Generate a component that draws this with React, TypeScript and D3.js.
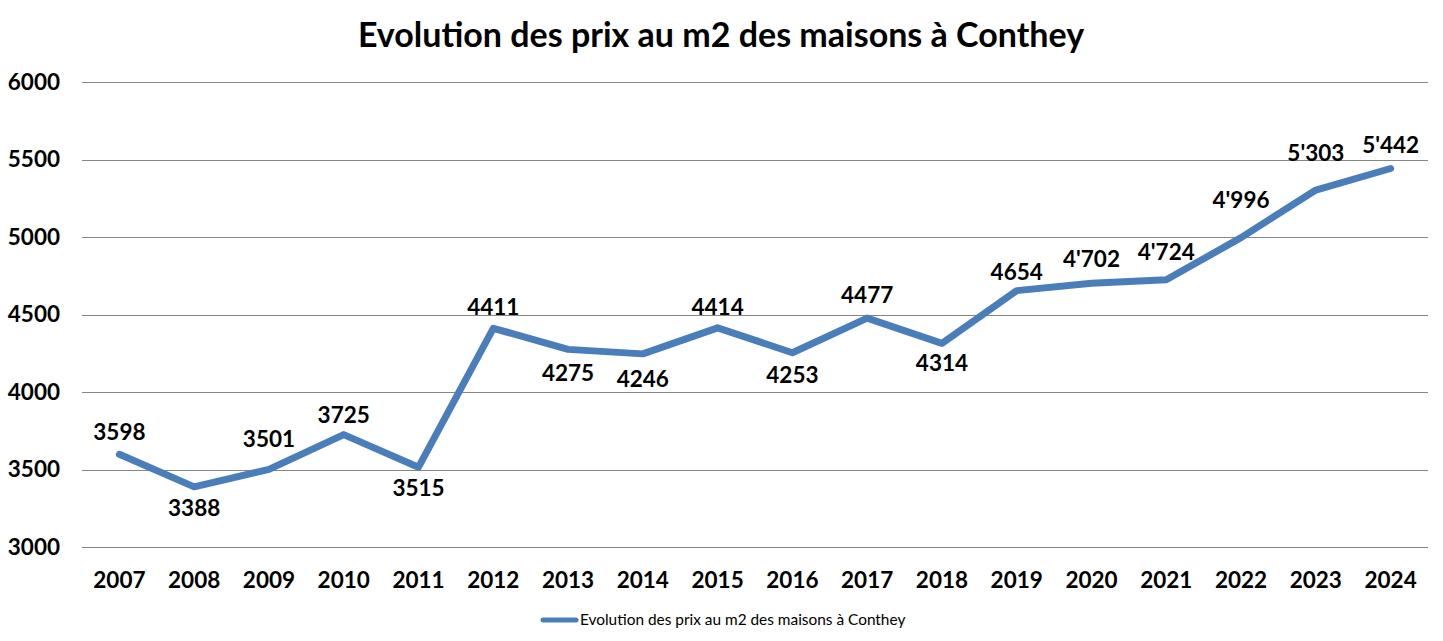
import { useEffect, useRef } from 'react';
import * as d3 from 'd3';

const years = ['2007', '2008', '2009', '2010', '2011', '2012', '2013', '2014', '2015', '2016', '2017', '2018', '2019', '2020', '2021', '2022', '2023', '2024'];
const prices = [3598, 3388, 3501, 3725, 3515, 4411, 4275, 4246, 4414, 4253, 4477, 4314, 4654, 4702, 4724, 4996, 5303, 5442];
const valueLabels = ['3598', '3388', '3501', '3725', '3515', '4411', '4275', '4246', '4414', '4253', '4477', '4314', '4654', "4'702", "4'724", "4'996", "5'303", "5'442"];
const yTicks = [3000, 3500, 4000, 4500, 5000, 5500, 6000];

const title = 'Evolution des prix au m2 des maisons à Conthey';

// label placement (px from the point, negative = above), as in the original
const labelDy = [-22, 21, -30, -20, 21, -21, 24, 25, -21, 22, -23, 20, -19, -24, -28, -37, -37, -23];

const W = 1443;
const H = 641;
const FONT = 'Lato, "Open Sans", sans-serif';
const BLUE = '#4a7ebb';

export default function App() {
  const svgRef = useRef<SVGSVGElement>(null);

  useEffect(() => {
    document.body.style.margin = '0';
    if (!svgRef.current) return;
    const svg = d3.select(svgRef.current);
    svg.selectAll('*').remove();

    const x = d3.scalePoint<string>().domain(years).range([82, 1428]).padding(0.5);
    const y = d3.scaleLinear().domain([3000, 6000]).range([547, 82]);

    svg.append('rect').attr('width', W).attr('height', H).attr('fill', '#fff');

    // title
    svg.append('text')
      .attr('x', 721)
      .attr('y', 47)
      .attr('text-anchor', 'middle')
      .attr('font-family', FONT)
      .attr('font-weight', 700)
      .attr('font-size', 34)
      .attr('fill', '#000')
      .text(title);

    // gridlines
    svg.append('g')
      .selectAll('line')
      .data(yTicks)
      .join('line')
      .attr('x1', 82)
      .attr('x2', 1428)
      .attr('y1', d => Math.round(y(d)) + 0.5)
      .attr('y2', d => Math.round(y(d)) + 0.5)
      .attr('stroke', '#868686')
      .attr('stroke-width', 1);

    // y tick labels
    svg.append('g')
      .selectAll('text')
      .data(yTicks)
      .join('text')
      .attr('x', 60)
      .attr('y', d => y(d))
      .attr('dy', '0.35em')
      .attr('text-anchor', 'end')
      .attr('font-family', FONT)
      .attr('font-weight', 700)
      .attr('font-size', 22.5)
      .attr('fill', '#000')
      .text(d => String(d));

    // x tick labels
    svg.append('g')
      .selectAll('text')
      .data(years)
      .join('text')
      .attr('x', d => x(d)!)
      .attr('y', 580)
      .attr('dy', '0.35em')
      .attr('text-anchor', 'middle')
      .attr('font-family', FONT)
      .attr('font-weight', 700)
      .attr('font-size', 22.5)
      .attr('fill', '#000')
      .text(d => d);

    // the line
    const line = d3.line<number>()
      .x((_, i) => x(years[i])!)
      .y(d => y(d));

    svg.append('path')
      .datum(prices)
      .attr('d', line)
      .attr('fill', 'none')
      .attr('stroke', BLUE)
      .attr('stroke-width', 7)
      .attr('stroke-linejoin', 'round')
      .attr('stroke-linecap', 'round');

    // value labels
    svg.append('g')
      .selectAll('text')
      .data(prices)
      .join('text')
      .attr('x', (_, i) => x(years[i])!)
      .attr('y', (d, i) => y(d) + labelDy[i])
      .attr('dy', '0.35em')
      .attr('text-anchor', 'middle')
      .attr('font-family', FONT)
      .attr('font-weight', 700)
      .attr('font-size', 22.5)
      .attr('fill', '#000')
      .text((_, i) => valueLabels[i]);

    // legend
    const lg = svg.append('g');
    lg.append('line')
      .attr('x1', 543)
      .attr('x2', 576)
      .attr('y1', 620)
      .attr('y2', 620)
      .attr('stroke', BLUE)
      .attr('stroke-width', 5)
      .attr('stroke-linecap', 'round');
    lg.append('text')
      .attr('x', 580)
      .attr('y', 620)
      .attr('dy', '0.35em')
      .attr('font-family', FONT)
      .attr('font-size', 15.4)
      .attr('fill', '#000')
      .text(title);
  }, []);

  return <svg ref={svgRef} width={W} height={H} style={{ display: 'block' }} />;
}
